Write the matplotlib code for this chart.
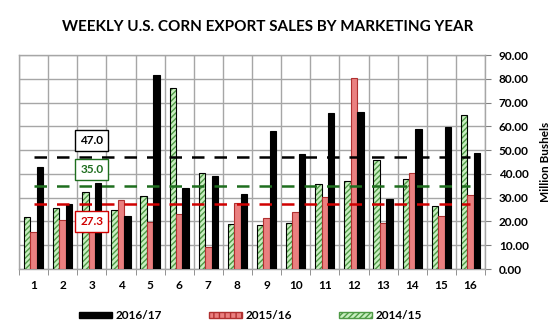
import matplotlib
matplotlib.use("Agg")
import matplotlib.pyplot as plt
import numpy as np
from matplotlib.patches import Patch

plt.rcParams['font.family'] = ['Lato', 'DejaVu Sans']
plt.rcParams['hatch.linewidth'] = 1.0

weeks = ['1', '2', '3', '4', '5', '6', '7', '8', '9', '10', '11', '12', '13', '14', '15', '16']
my_2016 = [43.0, 27.3, 36.0, 22.3, 81.6, 34.2, 39.3, 31.4, 58.2, 48.5, 65.7, 66.0, 29.6, 58.7, 59.6, 48.9]
my_2015 = [15.7, 20.5, 22.0, 29.0, 19.9, 23.1, 9.1, 27.6, 21.3, 23.8, 30.1, 80.5, 19.2, 40.2, 22.3, 31.2]
my_2014 = [21.7, 25.5, 32.5, 24.7, 30.7, 76.0, 40.4, 18.9, 18.5, 19.5, 35.6, 37.0, 45.8, 37.7, 26.5, 64.9]
ref_values = [47.0, 35.0, 27.3]
ref_labels = ['47.0', '35.0', '27.3']
series_names = ['2016/17', '2015/16', '2014/15']
yticks = [0, 10, 20, 30, 40, 50, 60, 70, 80, 90]

fig = plt.figure(figsize=(5.5, 3.36), dpi=100)
ax = fig.add_axes([19/550, 1-269/336, (485-19)/550, (269-55)/336])

x = np.arange(len(weeks))
w = 0.22
green_fc = '#c8efc0'
green_h = '#4f9a46'
pink_fc = '#ea8080'
pink_ec = '#b03030'

# green 2014/15
ax.bar(x - w, my_2014, w, facecolor=green_fc, edgecolor=green_h, hatch='//////', linewidth=0, zorder=3)
ax.bar(x - w, my_2014, w, fill=False, edgecolor='black', linewidth=0.8, zorder=3)
# pink 2015/16
ax.bar(x, my_2015, w, facecolor=pink_fc, edgecolor=pink_ec, linewidth=0.8, zorder=3)
# black 2016/17
ax.bar(x + w, my_2016, w, facecolor='black', edgecolor='black', linewidth=0.8, zorder=3)

line_colors = ['black', '#1e6e1e', '#d00000']
box_y = [54.1, 42.0, 19.9]
for v, lab, c, by in zip(ref_values, ref_labels, line_colors, box_y):
    ax.hlines(v, x[0], x[-1], colors=c, linewidth=1.8, linestyles=(0, (5, 4)), zorder=4)
    ax.text(2, by, lab, ha='center', va='center', fontsize=8.5, fontweight='bold', color=c, zorder=6,
            bbox=dict(boxstyle='square,pad=0.42', fc='white', ec=c, lw=1.0))

ax.set_xlim(-0.5, len(weeks) - 0.5)
ax.set_ylim(0, 90)
ax.set_xticks(x)
ax.set_xticklabels(weeks, fontsize=8.5, fontweight='bold')
ax.set_xticks(np.arange(-0.5, len(weeks), 1), minor=True)
ax.tick_params(axis='x', which='major', length=0, pad=8)
ax.tick_params(axis='x', which='minor', length=4, color='#808080', direction='out')
ax.yaxis.tick_right()
ax.yaxis.set_label_position('right')
ax.set_yticks(yticks)
ax.set_yticklabels(['%.2f' % t for t in yticks], fontsize=8.5, fontweight='bold')
ax.tick_params(axis='y', length=4, color='#808080', pad=6)
ax.set_ylabel('Million Bushels', fontsize=8.5, fontweight='bold', labelpad=8)
ax.grid(True, which='minor', axis='x', color='#a6a6a6', linewidth=1.0, zorder=0)
ax.grid(True, which='major', axis='y', color='#a6a6a6', linewidth=1.0, zorder=0)
ax.set_axisbelow(True)
for s in ax.spines.values():
    s.set_color('#a6a6a6')
    s.set_linewidth(1.0)

fig.text(0.487, 0.92, 'WEEKLY U.S. CORN EXPORT SALES BY MARKETING YEAR', ha='center', va='center',
         fontsize=11, fontweight='bold')

handles = [Patch(facecolor='black', edgecolor='black'),
           Patch(facecolor=pink_fc, edgecolor=pink_ec, hatch='|||'),
           Patch(facecolor=green_fc, edgecolor=green_h, hatch='//////')]
fig.legend(handles, series_names, loc='center', bbox_to_anchor=(0.455, 0.06), ncol=3, frameon=False,
           prop={'size': 8.5, 'weight': 'bold'}, handlelength=2.8, handleheight=0.45,
           columnspacing=4.0, handletextpad=0.3)

fig.savefig('out.png', dpi=100)
